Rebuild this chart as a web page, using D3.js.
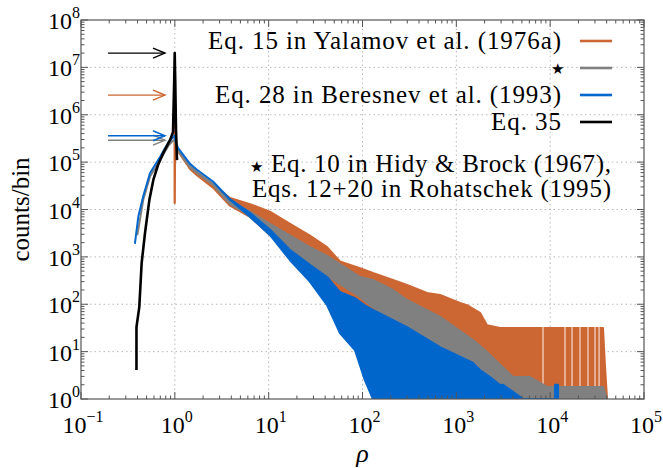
<!DOCTYPE html>
<html>
<head>
<meta charset="utf-8">
<script src="https://cdn.jsdelivr.net/npm/d3@7"></script>
<style>
body { margin: 0; background: #fff; }
</style>
</head>
<body>
<div id="my_dataviz"></div>
<script>
var width = 663
var height = 468
var margin = {top: 20, right: 19, bottom: 69, left: 81}

// histogram envelopes: rho, lower and upper counts/bin
var yalamovRho = [0.993, 1.0, 1.008, 1.03, 1.08, 1.45, 1.72, 2.55, 3.87, 6.32, 10.3, 16.9, 27.5, 41.9, 57.5, 94, 129, 211, 298, 487, 670, 1094, 1300, 1787, 2123, 2921, 8390, 36560, 38450, 40400]
var yalamovLo  = [1.37e4, 1.37e4, 2.6e5, 2.2e5, 1.7e5, 7.2e4, 5.3e4, 2.9e4, 1.2e4, 7.0e3, 2.9e3, 1.4e3, 650, 300, 150, 90, 60, 30, 15, 7, 4, 1.5, 1, 1, 1, 1, 1, 1, 1, 1]
var yalamovHi  = [2.6e6, 2.6e6, 2.8e5, 2.3e5, 1.8e5, 8.0e4, 6.0e4, 3.4e4, 1.75e4, 1.3e4, 9.0e3, 5.0e3, 2.8e3, 1.6e3, 800, 580, 457, 325, 255, 173, 157, 106, 96, 66, 36, 31.5, 31.5, 31.5, 4.7, 1]
// empty bins showing as white gaps in the flat tail
var yalamovEmptyRho = [8390, 14390, 17100, 20800, 25300, 30060, 33200]

var starRho = [0.40, 0.461, 0.544, 0.695, 0.852, 0.95, 0.99, 1.03, 1.08, 1.45, 1.72, 2.55, 3.87, 6.32, 10.3, 16.9, 27.5, 41.9, 94, 129, 211, 298, 670, 1507, 2000, 2286, 4018, 6095, 9250, 36560, 40400]
var starLo  = [3.0e3, 1.6e4, 5.0e4, 1.1e5, 2.2e5, 2.8e5, 2.9e5, 2.3e5, 1.75e5, 7.8e4, 5.9e4, 3.3e4, 1.3e4, 7.5e3, 3.3e3, 1.5e3, 750, 400, 142, 87, 47, 24.7, 7.7, 3.5, 1, 1, 1, 1, 1, 1, 1]
var starHi  = [3.0e3, 1.6e4, 5.0e4, 1.1e5, 2.2e5, 2.8e5, 2.9e5, 2.3e5, 1.8e5, 8.2e4, 6.2e4, 3.5e4, 1.45e4, 9.0e3, 5.0e3, 2.8e3, 1.6e3, 1.05e3, 376, 325, 200, 123, 54, 17.6, 11, 8.5, 2.9, 2.9, 1.8, 1.8, 1]

var beresnevRho = [0.376, 0.408, 0.461, 0.544, 0.695, 0.852, 0.95, 0.99, 1.03, 1.08, 1.45, 1.72, 2.55, 3.87, 6.32, 10.3, 16.9, 27.5, 41.9, 57.5, 83, 106, 129, 298, 670, 1507, 1787, 2286, 2921, 3145, 5140, 11270, 11270, 12130, 12130]
var beresnevLo  = [1960, 7.0e3, 1.93e4, 5.9e4, 1.28e5, 2.6e5, 3.3e5, 3.6e5, 2.6e5, 2.0e5, 9.2e4, 6.9e4, 3.9e4, 1.6e4, 7.0e3, 2.9e3, 850, 300, 96, 24.7, 10.8, 2.5, 1, 1, 1, 1, 1, 1, 1, 1, 1, 1, 1, 1, 1]
var beresnevHi  = [1960, 7.0e3, 1.93e4, 5.9e4, 1.28e5, 2.6e5, 3.3e5, 3.6e5, 2.6e5, 2.0e5, 9.2e4, 6.9e4, 3.9e4, 1.65e4, 8.5e3, 3.8e3, 1.4e3, 680, 376, 181, 135, 95, 76, 33, 12.5, 5.75, 4.1, 2.9, 1.98, 2, 1, 1, 2, 2, 1]

var eq35Rho    = [0.390, 0.390, 0.418, 0.443, 0.481, 0.535, 0.590, 0.662, 0.753, 0.888, 0.956, 0.985, 0.997, 1.010, 1.029, 1.055]
var eq35Counts = [4.1, 33, 87, 743, 3190, 1.58e4, 4.2e4, 8.7e4, 1.56e5, 2.9e5, 4.3e5, 5.4e6, 2.0e7, 5.4e6, 4.8e5, 1.1e5]

var legendLabels = ["Eq. 15 in Yalamov et al. (1976a)", "", "Eq. 28 in Beresnev et al. (1993)", "Eq. 35"]
var legendWidths = [353, 0, 346, 70]
var noteLines = ["Eq. 10 in Hidy & Brock (1967),", "Eqs. 12+20 in Rohatschek (1995)"]
var noteWidths = [340, 359]

var colors = ["#cc6633", "#808080", "#0066cc", "#000000"]
var serif = "'Liberation Serif', 'DejaVu Serif', 'Times New Roman', serif"

function zipBand(rho, lo, hi) {
    return rho.map(function(r, i) { return {rho: r, lo: lo[i], hi: hi[i]} })
}

var bands = [
    zipBand(yalamovRho, yalamovLo, yalamovHi),
    zipBand(starRho, starLo, starHi),
    zipBand(beresnevRho, beresnevLo, beresnevHi)
]
var eq35 = eq35Rho.map(function(r, i) { return {rho: r, c: eq35Counts[i]} })

var svg = d3.select("#my_dataviz")
    .append("svg")
    .attr("width", width)
    .attr("height", height)
    .attr("font-family", serif)

var x = d3.scaleLog().domain([0.1, 1e5]).range([margin.left, width - margin.right])
var y = d3.scaleLog().domain([1, 1e8]).range([height - margin.bottom, margin.top])
var x0 = margin.left, x1 = width - margin.right, y0 = height - margin.bottom, y1 = margin.top

svg.append("clipPath").attr("id", "clip")
    .append("rect").attr("x", x0).attr("y", y1).attr("width", x1 - x0).attr("height", y0 - y1)

function isMajor(v) { return Math.abs(Math.log10(v) - Math.round(Math.log10(v))) < 1e-9 }

// grid
var xMajors = x.ticks().filter(isMajor)
var yMajors = y.ticks().filter(isMajor)
svg.append("g").selectAll("line.gx")
    .data(xMajors.slice(1, -1)).enter().append("line")
    .attr("x1", function(d) { return x(d) }).attr("x2", function(d) { return x(d) })
    .attr("y1", y0).attr("y2", y1)
    .attr("stroke", "#b8b8b8").attr("stroke-width", 1).attr("stroke-dasharray", "1.5,3")
svg.append("g").selectAll("line.gy")
    .data(yMajors.slice(1, -1)).enter().append("line")
    .attr("y1", function(d) { return y(d) }).attr("y2", function(d) { return y(d) })
    .attr("x1", x0).attr("x2", x1)
    .attr("stroke", "#b8b8b8").attr("stroke-width", 1).attr("stroke-dasharray", "1.5,3")

// data
var plot = svg.append("g").attr("clip-path", "url(#clip)")
var area = d3.area()
    .x(function(d) { return x(d.rho) })
    .y0(function(d) { return y(d.lo) })
    .y1(function(d) { return y(d.hi) })

function drawBand(i) {
    plot.append("path")
        .datum(bands[i])
        .attr("d", area)
        .attr("fill", colors[i])
        .attr("stroke", colors[i])
        .attr("stroke-width", 2)
        .attr("stroke-linejoin", "round")
}

drawBand(0)
plot.selectAll("line.gap")
    .data(yalamovEmptyRho).enter().append("line")
    .attr("x1", function(d) { return x(d) }).attr("x2", function(d) { return x(d) })
    .attr("y1", y(31.5) - 1).attr("y2", y0)
    .attr("stroke", "#f6ddd0").attr("stroke-width", 1.2)
drawBand(1)
drawBand(2)

var line = d3.line()
    .x(function(d) { return x(d.rho) })
    .y(function(d) { return y(d.c) })
plot.append("path")
    .datum(eq35)
    .attr("d", line)
    .attr("fill", "none")
    .attr("stroke", colors[3])
    .attr("stroke-width", 2.6)
    .attr("stroke-linejoin", "round")

// arrows pointing at the peak of each histogram
var peaks = [
    d3.max(yalamovHi), d3.max(starHi), d3.max(beresnevHi), d3.max(eq35Counts)
]
var arrowOrder = [3, 0, 1, 2]
arrowOrder.forEach(function(i) {
    var py = y(peaks[i])
    var g = svg.append("g").attr("stroke", colors[i]).attr("stroke-width", 1.4).attr("fill", "none")
    g.append("line").attr("x1", 108).attr("x2", 165).attr("y1", py).attr("y2", py)
    g.append("path").attr("d", "M153," + (py - 5) + "L165," + py + "L153," + (py + 5))
})

// frame and ticks
svg.append("rect").attr("x", x0).attr("y", y1).attr("width", x1 - x0).attr("height", y0 - y1)
    .attr("fill", "none").attr("stroke", "#555").attr("stroke-width", 1.2)

var tg = svg.append("g").attr("stroke", "#555").attr("stroke-width", 1)
x.ticks().forEach(function(v) {
    var len = isMajor(v) ? 7 : 3.5
    tg.append("line").attr("x1", x(v)).attr("x2", x(v)).attr("y1", y0).attr("y2", y0 - len)
    tg.append("line").attr("x1", x(v)).attr("x2", x(v)).attr("y1", y1).attr("y2", y1 + len)
})
y.ticks().forEach(function(v) {
    var len = isMajor(v) ? 7 : 3.5
    tg.append("line").attr("y1", y(v)).attr("y2", y(v)).attr("x1", x0).attr("x2", x0 + len)
    tg.append("line").attr("y1", y(v)).attr("y2", y(v)).attr("x1", x1).attr("x2", x1 - len)
})

function powLabel(px, py, v, anchor) {
    var e = Math.round(Math.log10(v))
    var t = svg.append("text").attr("x", px).attr("y", py).attr("text-anchor", anchor)
        .attr("font-size", 24)
    t.append("tspan").text("10")
    t.append("tspan").attr("dy", -11).attr("font-size", 16).text(e < 0 ? "\u2212" + (-e) : e)
}
xMajors.forEach(function(v) { powLabel(x(v) + 2, y0 + 34, v, "middle") })
yMajors.forEach(function(v) { powLabel(x0 - 1, y(v) + 9, v, "end") })

// axis titles
svg.append("text")
    .attr("transform", "translate(29," + ((y0 + y1) / 2) + ") rotate(-90)")
    .attr("text-anchor", "middle")
    .attr("font-size", 25)
    .text("counts/bin")
svg.append("text")
    .attr("x", (x0 + x1) / 2).attr("y", 462)
    .attr("text-anchor", "middle")
    .attr("font-size", 26).attr("font-style", "italic")
    .text("\u03c1")

// legend
function star(px, py) {
    svg.append("text").attr("x", px).attr("y", py).attr("text-anchor", "middle")
        .attr("font-size", 15).text("\u2605")
}
legendLabels.forEach(function(label, i) {
    var ly = 41 + i * 27
    if (label) {
        svg.append("text").attr("x", 561).attr("y", ly + 8).attr("text-anchor", "end")
            .attr("font-size", 25).attr("textLength", legendWidths[i]).text(label)
    } else {
        star(557, ly + 6)
    }
    svg.append("line").attr("x1", 580).attr("x2", 612).attr("y1", ly).attr("y2", ly)
        .attr("stroke", colors[i]).attr("stroke-width", 2.6)
})
star(256, 172)
noteLines.forEach(function(s, i) {
    svg.append("text").attr("x", 611).attr("y", 172 + i * 25).attr("text-anchor", "end")
        .attr("font-size", 25).attr("textLength", noteWidths[i]).text(s)
})
</script>
</body>
</html>
